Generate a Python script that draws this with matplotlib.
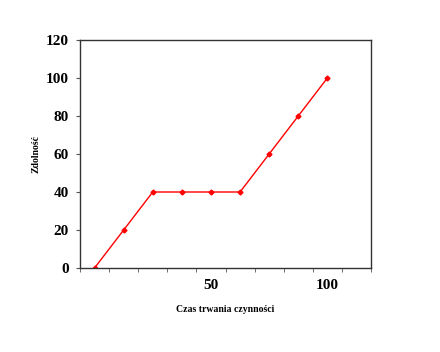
import matplotlib
matplotlib.use("Agg")
import matplotlib.pyplot as plt

# dane
czas = [0, 12.5, 25, 37.5, 50, 62.5, 75, 87.5, 100]
zdolnosc = [0, 20, 40, 40, 40, 40, 60, 80, 100]
x_ticks_major = [50, 100]
y_ticks = [0, 20, 40, 60, 80, 100, 120]

plt.rcParams['font.family'] = ['Liberation Serif', 'DejaVu Serif']

fig = plt.figure(figsize=(4.4, 3.52), dpi=100)
ax = fig.add_axes([80 / 440, 1 - 268 / 352, 291 / 440, 228 / 352])

ax.plot(czas, zdolnosc, color='red', linewidth=1.0, marker='D', markersize=2.5)

ax.set_xlim(-6.25, 118.75)
ax.set_ylim(0, 120)
ax.set_xticks(x_ticks_major)
ax.set_xticks([-6.25 + 12.5 * i for i in range(11)], minor=True)
ax.tick_params(axis='x', which='major', length=0, labelsize=11, pad=8)
ax.tick_params(axis='x', which='minor', length=3, direction='out', color='#555555')
ax.set_yticks(y_ticks)
ax.tick_params(axis='y', length=3, direction='out', labelsize=11, color='#555555', pad=5)
for lab in ax.get_xticklabels() + ax.get_yticklabels():
    lab.set_fontweight('bold')

for s in ax.spines.values():
    s.set_color('#333333')
    s.set_linewidth(1.0)

ax.set_xlabel('Czas trwania czynności', fontsize=7, fontweight='bold', labelpad=9)
ax.set_ylabel('Zdolność', fontsize=7, fontweight='bold', labelpad=4)

fig.savefig('out.png', dpi=100)
